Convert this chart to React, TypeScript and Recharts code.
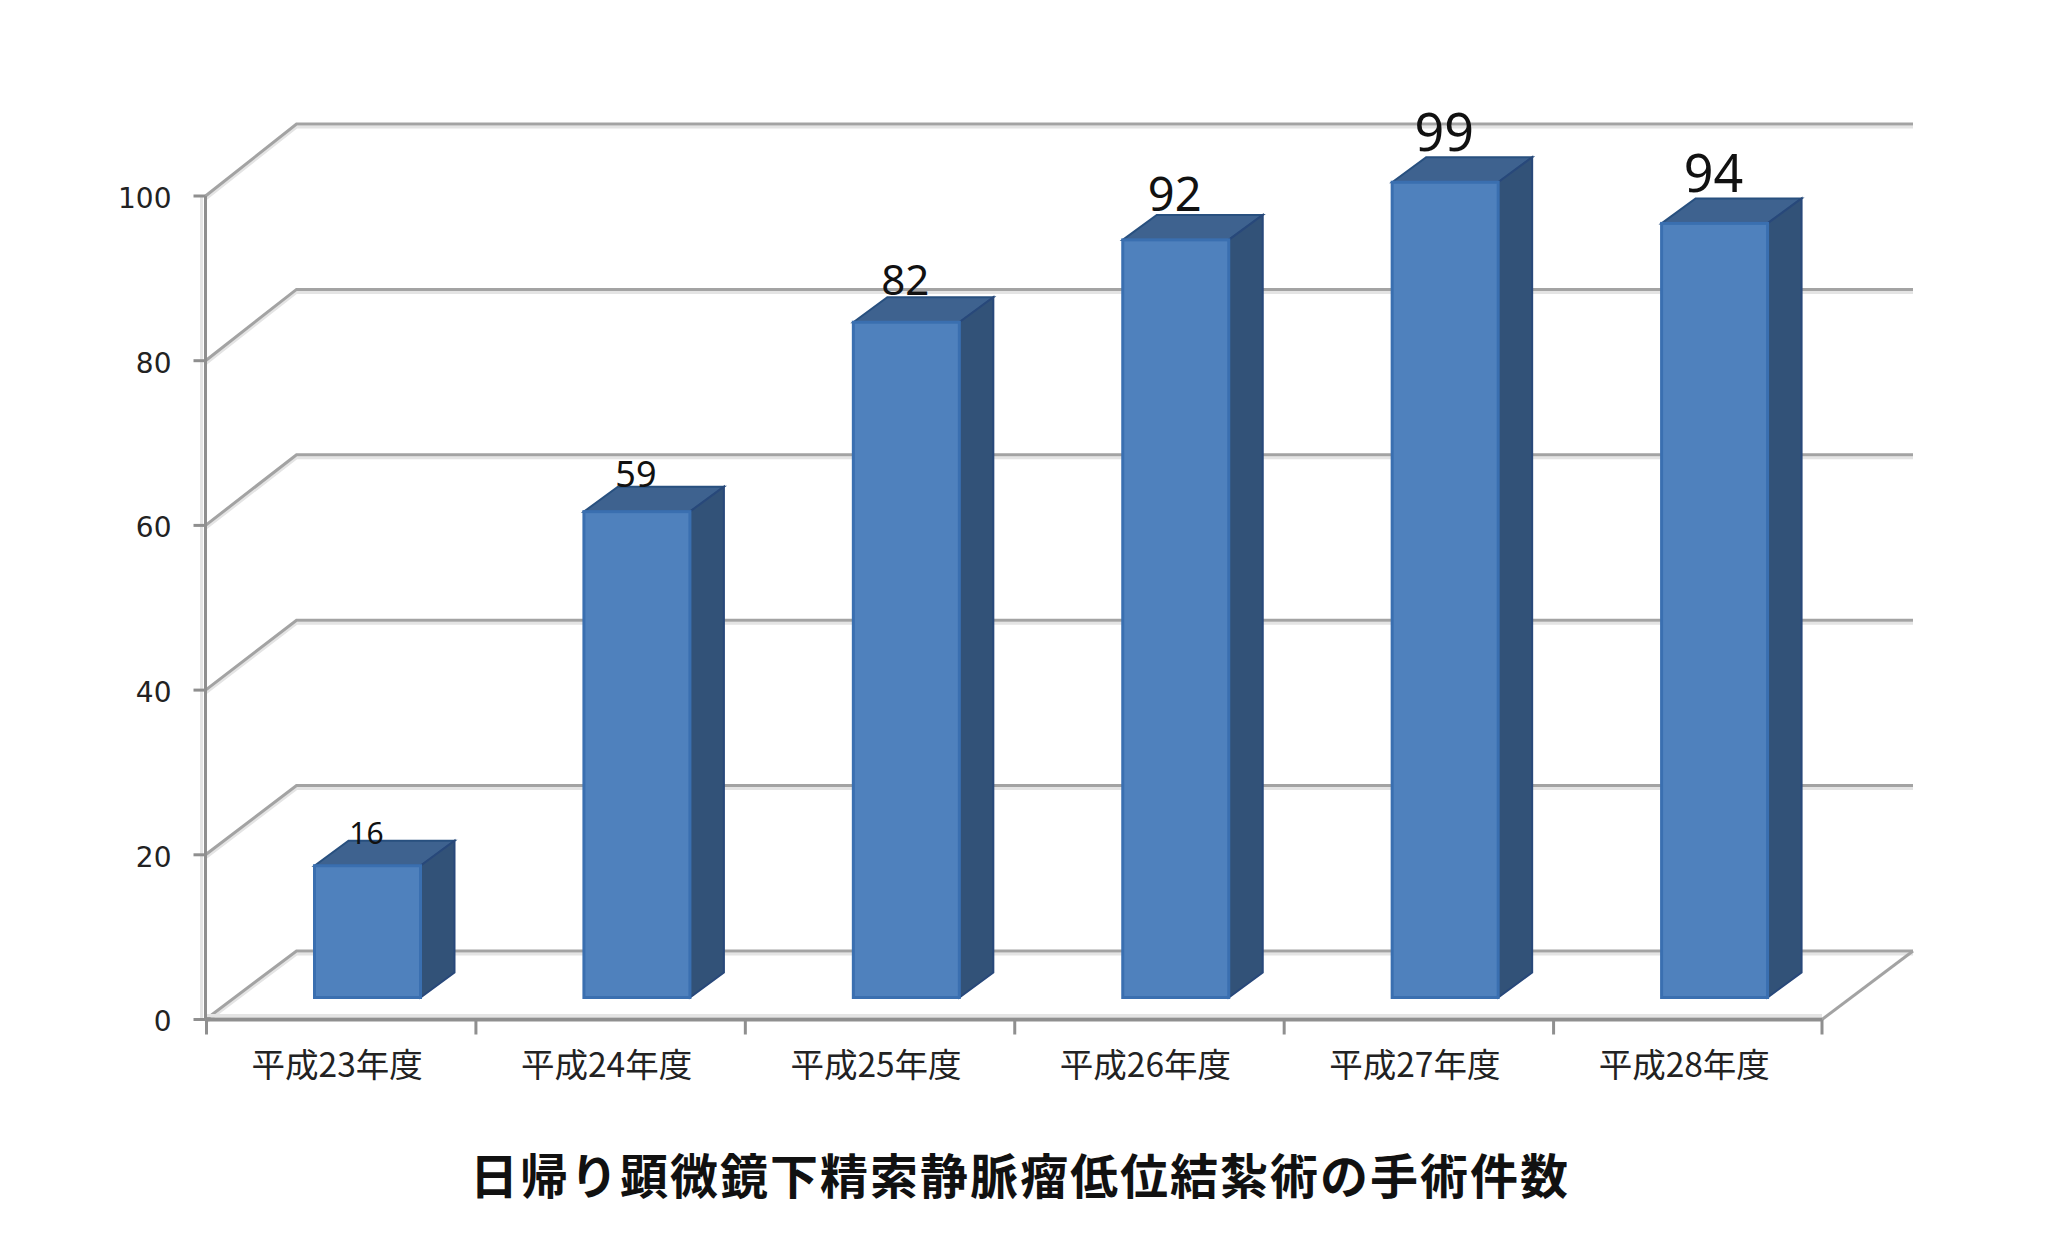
import { Bar, BarChart, CartesianGrid, LabelList, XAxis, YAxis } from "recharts";

const categories = ["平成23年度", "平成24年度", "平成25年度", "平成26年度", "平成27年度", "平成28年度"];
const counts = [16, 59, 82, 92, 99, 94];
const yTicks = [0, 20, 40, 60, 80, 100];
const labelSizes = [30, 36, 42, 47, 52, 52];
const title = "日帰り顕微鏡下精索静脈瘤低位結紮術の手術件数";

const data = categories.map((name, i) => ({ name, count: counts[i] }));

const WIDTH = 2046;
const HEIGHT = 1255;
const PLOT_LEFT = 205.5;
const PLOT_RIGHT = 1822;
const PLOT_TOP = 196;
const PLOT_BOTTOM = 1019.5;
const BAND = (PLOT_RIGHT - PLOT_LEFT) / categories.length;

// fake 3D offsets
const WALL_DX = 91;
const WALL_DY_FLOOR = -68.5;
const WALL_DY_TOP = -72;
const BAR_SHIFT_X = 27;
const BAR_SHIFT_Y = -22;
const BAR_DX = 34;
const BAR_DY = -25;

const AXIS_COLOR = "#8f8f8f";
const GRID_COLOR = "#a3a3a3";
const HALO_COLOR = "#e4e4e4";
const CJK = '"Noto Sans CJK JP", "Noto Sans", sans-serif';

function WallLine(props: any) {
  const { x1, x2, y1 } = props;
  const isFloor = Math.abs(y1 - PLOT_BOTTOM) < 1;
  const t = (PLOT_BOTTOM - y1) / (PLOT_BOTTOM - PLOT_TOP);
  const backY = y1 + WALL_DY_FLOOR + (WALL_DY_TOP - WALL_DY_FLOOR) * t;
  const path = `M${x1},${y1} L${x1 + WALL_DX},${backY} L${x2 + WALL_DX},${backY}`;
  return (
    <g fill="none">
      <path d={path} transform="translate(0,3)" stroke={HALO_COLOR} strokeWidth={3} />
      <path d={path} stroke={GRID_COLOR} strokeWidth={3} />
      {isFloor && (
        <>
          <path d={`M${x2},${y1} L${x2 + WALL_DX},${backY}`} stroke={GRID_COLOR} strokeWidth={3} />
          <line x1={x1} x2={x2} y1={y1 - 4} y2={y1 - 4} stroke={HALO_COLOR} strokeWidth={3} />
          <line x1={x1 - 4} x2={x1 - 4} y1={PLOT_TOP} y2={y1} stroke={HALO_COLOR} strokeWidth={3} />
        </>
      )}
    </g>
  );
}

function Bar3D(props: any) {
  const { x, y, width, height } = props;
  const left = x + BAR_SHIFT_X;
  const right = left + width;
  const top = y + BAR_SHIFT_Y;
  const bottom = top + height;
  return (
    <g>
      <path
        d={`M${left},${top} L${left + BAR_DX},${top + BAR_DY} L${right + BAR_DX},${top + BAR_DY} L${right},${top} Z`}
        fill="#3e628f"
        stroke="#28507f"
        strokeWidth={2}
      />
      <path
        d={`M${right},${top} L${right + BAR_DX},${top + BAR_DY} L${right + BAR_DX},${bottom + BAR_DY} L${right},${bottom} Z`}
        fill="#325278"
        stroke="#28487a"
        strokeWidth={2}
      />
      <rect x={left} y={top} width={width} height={height} fill="#4f81bd" stroke="#3a6fb0" strokeWidth={3} />
    </g>
  );
}

function CountLabel(props: any) {
  const { x, y, width, value, index } = props;
  const size = labelSizes[index];
  return (
    <text
      x={x + width / 2 + BAR_SHIFT_X - 1}
      y={y + BAR_SHIFT_Y - 9.7 - size * 0.41}
      textAnchor="middle"
      fontFamily='"Noto Sans", sans-serif'
      fontSize={size}
      fill="#111"
    >
      {value}
    </text>
  );
}

function CategoryTick(props: any) {
  const { x, y, payload, index } = props;
  const axisY = PLOT_BOTTOM;
  const left = x - BAND / 2 + 1;
  const right = x + BAND / 2;
  return (
    <g>
      <line x1={left} x2={left} y1={axisY} y2={axisY + 15} stroke={AXIS_COLOR} strokeWidth={3} />
      {index === categories.length - 1 && (
        <line x1={right} x2={right} y1={axisY} y2={axisY + 15} stroke={AXIS_COLOR} strokeWidth={3} />
      )}
      <text x={x - 3} y={y + 49} textAnchor="middle" fontFamily={CJK} fontSize={33.5} fill="#222">
        {payload.value}
      </text>
    </g>
  );
}

export default function App() {
  return (
    <div style={{ position: "absolute", left: 0, top: 0, width: WIDTH, height: HEIGHT, background: "#fff" }}>
      <BarChart
        width={WIDTH}
        height={HEIGHT}
        data={data}
        barSize={106}
        margin={{ top: PLOT_TOP, right: WIDTH - PLOT_RIGHT, bottom: HEIGHT - PLOT_BOTTOM - 70, left: PLOT_LEFT - 80 }}
      >
        <CartesianGrid vertical={false} horizontal={(p: any) => <WallLine key={p.key} {...p} />} />
        <XAxis
          dataKey="name"
          height={70}
          interval={0}
          tickLine={false}
          axisLine={{ stroke: AXIS_COLOR, strokeWidth: 4 }}
          tick={CategoryTick}
        />
        <YAxis
          width={80}
          domain={[0, 100]}
          ticks={yTicks}
          tickSize={12}
          tickMargin={22}
          axisLine={{ stroke: AXIS_COLOR, strokeWidth: 3 }}
          tickLine={{ stroke: AXIS_COLOR, strokeWidth: 3 }}
          tick={{ fontSize: 28, fill: "#222", fontFamily: '"DejaVu Sans", sans-serif', dy: 2 }}
        />
        <Bar dataKey="count" isAnimationActive={false} shape={Bar3D}>
          <LabelList dataKey="count" content={CountLabel} />
        </Bar>
      </BarChart>
      <div
        style={{
          position: "absolute",
          left: 0,
          width: 2040,
          top: 1141,
          textAlign: "center",
          fontFamily: CJK,
          fontWeight: 700,
          fontSize: 48,
          letterSpacing: 2,
          lineHeight: "64px",
          color: "#111",
        }}
      >
        {title}
      </div>
    </div>
  );
}
